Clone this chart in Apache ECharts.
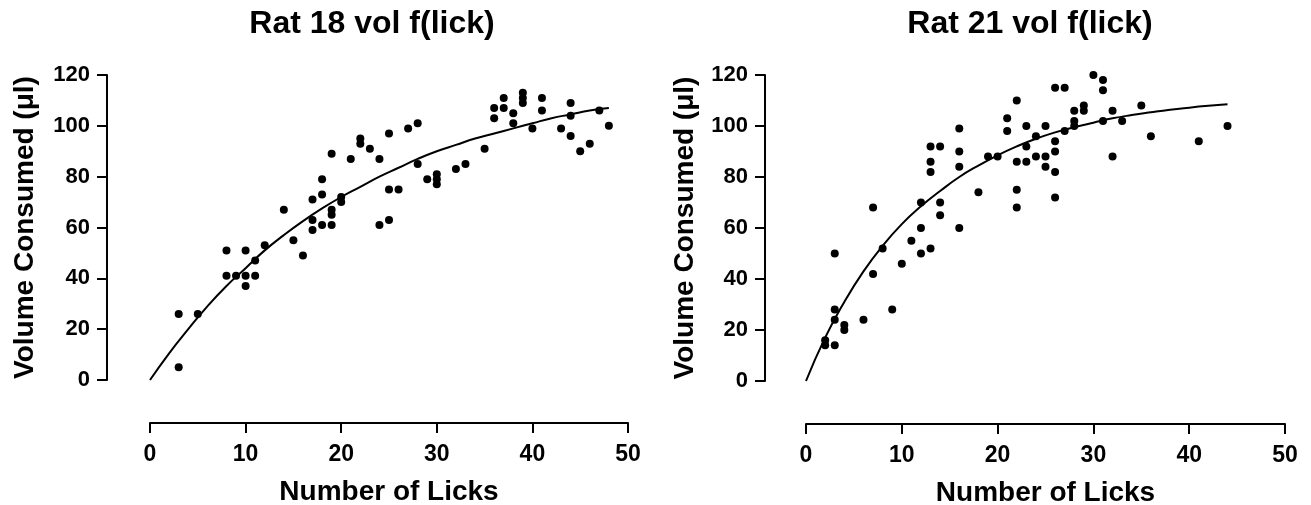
<!DOCTYPE html>
<html>
<head>
<meta charset="utf-8">
<script src="https://cdn.jsdelivr.net/npm/echarts@6/dist/echarts.min.js"></script>
<style>
html,body{margin:0;padding:0;background:#fff;}
#c{width:1311px;height:505px;}
</style>
</head>
<body>
<div id="c"></div>
<script>
// ---- data ----
const titles = ["Rat 18 vol f(lick)", "Rat 21 vol f(lick)"];
const xName = "Number of Licks";
const yName = "Volume Consumed (\u03bcl)";
const xTicks = [0, 10, 20, 30, 40, 50];
const yTicks = [0, 20, 40, 60, 80, 100, 120];

const rat18Licks = [3,3,5,8,8,9,10,10,10,11,11,12,14,15,16,17,17,17,18,18,18,19,19,19,19,20,20,21,22,22,23,24,24,25,25,25,26,27,28,28,29,30,30,30,32,33,35,36,36,37,37,38,38,39,39,39,40,41,41,43,44,44,44,45,46,47,48];
const rat18Vol   = [26,5,26,51,41,41,51,41,37,47,41,53,67,55,49,71,63,59,79,73,61,89,67,65,61,72,70,87,95,93,91,87,61,97,75,63,75,99,101,85,79,81,79,77,83,85,91,107,103,111,107,105,101,113,111,109,99,111,106,99,109,104,96,90,93,106,100];

const rat21Licks = [2,2,3,3,3,3,4,4,6,7,7,8,9,10,11,12,12,12,13,13,13,13,14,14,14,16,16,16,16,18,19,20,21,21,22,22,22,22,23,23,23,24,24,25,25,25,26,26,26,26,26,27,27,28,28,28,29,29,30,31,31,31,32,32,33,35,36,41,44];
const rat21Vol   = [16,14,50,28,24,14,22,20,24,68,42,52,28,46,55,70,60,50,92,86,82,52,92,70,65,99,90,84,60,74,88,88,103,98,110,86,75,68,100,92,86,96,88,100,88,84,115,94,90,82,72,115,98,106,102,100,108,106,120,118,114,102,106,88,102,108,96,94,100];

// fitted curves as drawn in the picture
const fit18Licks = [0,2,4,6,8,10,12,14,16,18,20,22,24,26,28,30,32,34,36,38,40,42,44,46,48];
const fit18Vol   = [0,10.5,20,29,37,44,51,57,62.5,67.5,72,76,80,83.5,87,90,92.5,95,97,99,101,103,104.5,106,107];
const fit21Licks = [0,2,4,6,8,10,12,14,16,18,20,22,24,26,28,30,32,34,36,38,40,42,44];
const fit21Vol   = [0,17,31,43,53,61.5,68.5,74.5,80,84.5,88.5,92,95,97.5,99.5,101.3,103,104.3,105.4,106.4,107.2,107.9,108.5];

// ---- build chart ----
const FONT = "'Liberation Sans', Arial, Helvetica, sans-serif";
const pair = (xs, ys) => xs.map((x, i) => [x, ys[i]]);

const grids = [
  {left: 150, right: 683, top: 75, bottom: 125, containLabel: false, outerBoundsMode: 'none'},
  {left: 806, right: 26, top: 75, bottom: 124, containLabel: false, outerBoundsMode: 'none'}
];
const titleCenters = [367, 1025];
const yNameGaps = [68, 66];
const yOffsets = [43, 41];

function xAxis(i){
  return {
    type: 'value', gridIndex: i, min: xTicks[0], max: xTicks[xTicks.length-1], interval: 10,
    offset: 43,
    name: xName, nameLocation: 'middle', nameGap: 55,
    nameTextStyle: {fontFamily: FONT, fontWeight: 'bold', fontSize: 28, color: '#000'},
    axisLine: {show: true, onZero: false, lineStyle: {color: '#000', width: 2}},
    axisTick: {show: true, length: 10, lineStyle: {color: '#000', width: 2}},
    axisLabel: {fontFamily: FONT, fontWeight: 'bold', fontSize: 23, color: '#000', margin: 20},
    splitLine: {show: false}
  };
}
function yAxis(i){
  return {
    type: 'value', gridIndex: i, min: yTicks[0], max: yTicks[yTicks.length-1], interval: 20,
    offset: yOffsets[i],
    name: yName, nameLocation: 'middle', nameGap: yNameGaps[i], nameRotate: 90,
    nameTextStyle: {fontFamily: FONT, fontWeight: 'bold', fontSize: 28, color: '#000'},
    axisLine: {show: true, onZero: false, lineStyle: {color: '#000', width: 2}},
    axisTick: {show: true, length: 10, lineStyle: {color: '#000', width: 2}},
    axisLabel: {fontFamily: FONT, fontWeight: 'bold', fontSize: 22, color: '#000', margin: 17},
    splitLine: {show: false}
  };
}

const option = {
  animation: false,
  backgroundColor: '#fff',
  title: titles.map((t, i) => ({
    text: t, left: titleCenters[i], top: 3, textAlign: 'center',
    textStyle: {fontFamily: FONT, fontWeight: 'bold', fontSize: 32, color: '#000'}
  })),
  grid: grids,
  xAxis: [xAxis(0), xAxis(1)],
  yAxis: [yAxis(0), yAxis(1)],
  series: [
    {type: 'scatter', xAxisIndex: 0, yAxisIndex: 0, data: pair(rat18Licks, rat18Vol),
     symbol: 'circle', symbolSize: 8, itemStyle: {color: '#000', opacity: 1}},
    {type: 'line', xAxisIndex: 0, yAxisIndex: 0, data: pair(fit18Licks, fit18Vol),
     smooth: true, showSymbol: false, lineStyle: {color: '#000', width: 2}},
    {type: 'scatter', xAxisIndex: 1, yAxisIndex: 1, data: pair(rat21Licks, rat21Vol),
     symbol: 'circle', symbolSize: 8, itemStyle: {color: '#000', opacity: 1}},
    {type: 'line', xAxisIndex: 1, yAxisIndex: 1, data: pair(fit21Licks, fit21Vol),
     smooth: true, showSymbol: false, lineStyle: {color: '#000', width: 2}}
  ]
};
echarts.init(document.getElementById('c')).setOption(option);
</script>
</body>
</html>
